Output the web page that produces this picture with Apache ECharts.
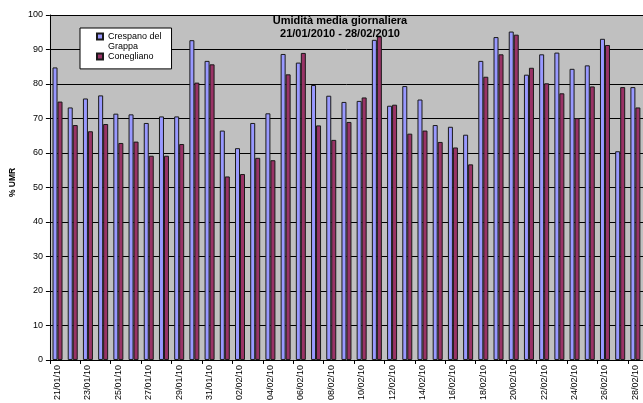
<!DOCTYPE html>
<html>
<head>
<meta charset="utf-8">
<script src="https://cdn.jsdelivr.net/npm/echarts@6/dist/echarts.min.js"></script>
<style>
  html, body { margin: 0; padding: 0; background: #fff; }
  #chart { width: 643px; height: 403px; }
</style>
</head>
<body>
<div id="chart"></div>
<script>
// Daily dates, 21/01/2010 – 28/02/2010
const days = [
  '21/01/10','22/01/10','23/01/10','24/01/10','25/01/10','26/01/10','27/01/10','28/01/10',
  '29/01/10','30/01/10','31/01/10','01/02/10','02/02/10','03/02/10','04/02/10','05/02/10',
  '06/02/10','07/02/10','08/02/10','09/02/10','10/02/10','11/02/10','12/02/10','13/02/10',
  '14/02/10','15/02/10','16/02/10','17/02/10','18/02/10','19/02/10','20/02/10','21/02/10',
  '22/02/10','23/02/10','24/02/10','25/02/10','26/02/10','27/02/10','28/02/10'
];

// Mean daily relative humidity (%)
const crespano = [
  84.8, 73.2, 75.8, 76.7, 71.4, 71.2, 68.7, 70.6, 70.6, 92.7, 86.7, 66.5, 61.4, 68.7,
  71.5, 88.7, 86.2, 79.7, 76.6, 74.8, 75.1, 92.8, 73.7, 79.4, 75.5, 68.1, 67.6, 65.3,
  86.7, 93.6, 95.2, 82.7, 88.6, 89.1, 84.4, 85.4, 93.1, 60.5, 79.1
];
const conegliano = [
  74.9, 68.1, 66.3, 68.4, 62.9, 63.3, 59.2, 59.2, 62.6, 80.4, 85.7, 53.2, 53.9, 58.6,
  57.9, 82.8, 89.0, 68.0, 63.8, 69.0, 76.1, 93.8, 74.0, 65.6, 66.5, 63.2, 61.6, 56.7,
  82.1, 88.6, 94.3, 84.7, 80.2, 77.3, 70.1, 79.3, 91.3, 79.1, 73.2
];

const seriesNames = ['Crespano del Grappa', 'Conegliano'];
const legendLabels = ['Crespano del\nGrappa', 'Conegliano'];
const titleLines = ['Umidità media giornaliera', '21/01/2010 - 28/02/2010'];
const yTicks = { min: 0, max: 100, step: 10 };

const FONT = '"Liberation Sans", Arial, sans-serif';

const chart = echarts.init(document.getElementById('chart'), null, { renderer: 'canvas' });

chart.setOption({
  animation: false,
  backgroundColor: '#fff',
  title: {
    text: titleLines.join('\n'),
    left: 340,
    top: 14,
    textAlign: 'center',
    padding: 0,
    textStyle: {
      fontFamily: FONT, fontSize: 11, fontWeight: 'bold', color: '#000', lineHeight: 13
    }
  },
  legend: {
    orient: 'vertical',
    left: 80,
    top: 28,
    padding: [2.4, 10, 1.5, 16],
    itemWidth: 6,
    itemHeight: 20,
    itemGap: -7,
    backgroundColor: '#fff',
    borderColor: '#000',
    borderWidth: 1,
    borderRadius: 0,
    selectedMode: false,
    formatter: name => legendLabels[seriesNames.indexOf(name)],
    textStyle: { fontFamily: FONT, fontSize: 9, lineHeight: 10, color: '#000' },
    data: [
      // square marker aligned with the first text line
      { name: seriesNames[0], icon: 'path://M0,0L0,0.01M0,2H6V8H0ZM0,20L0,19.99' },
      { name: seriesNames[1], icon: 'path://M0,0L0,0.01M0,7H6V13H0ZM0,20L0,19.99' }
    ]
  },
  grid: {
    left: 47,
    top: 15,
    width: 598.65,
    height: 346,
    show: true,
    backgroundColor: '#C0C0C0',
    borderWidth: 0
  },
  xAxis: {
    type: 'category',
    data: days,
    boundaryGap: true,
    axisLine: { show: true, lineStyle: { color: '#000', width: 1 } },
    axisTick: { show: true, interval: 1, length: 4, lineStyle: { color: '#000' } },
    axisLabel: {
      interval: 1, rotate: 90, margin: 5,
      fontFamily: FONT, fontSize: 9, color: '#000'
    },
    splitLine: { show: false }
  },
  yAxis: {
    type: 'value',
    min: yTicks.min,
    max: yTicks.max,
    interval: yTicks.step,
    name: '% UMR',
    nameLocation: 'middle',
    nameGap: 32,
    nameTextStyle: {
      fontFamily: FONT, fontSize: 8.5, fontWeight: 'bold', color: '#000',
      padding: [0, 0, 0, 10]
    },
    axisLine: { show: true, lineStyle: { color: '#000', width: 1 } },
    axisTick: { show: true, length: 4, lineStyle: { color: '#000' } },
    axisLabel: { margin: 7, fontFamily: FONT, fontSize: 9, color: '#000' },
    splitLine: { show: true, lineStyle: { color: '#000', width: 1 } }
  },
  series: [
    {
      name: seriesNames[0],
      type: 'bar',
      data: crespano,
      barWidth: 5,
      barGap: '0%',
      itemStyle: { color: '#9999FF', borderColor: '#1a1a1a', borderWidth: 1 }
    },
    {
      name: seriesNames[1],
      type: 'bar',
      data: conegliano,
      barWidth: 5,
      barGap: '0%',
      itemStyle: { color: '#993366', borderColor: '#1a1a1a', borderWidth: 1 }
    }
  ]
});
</script>
</body>
</html>
